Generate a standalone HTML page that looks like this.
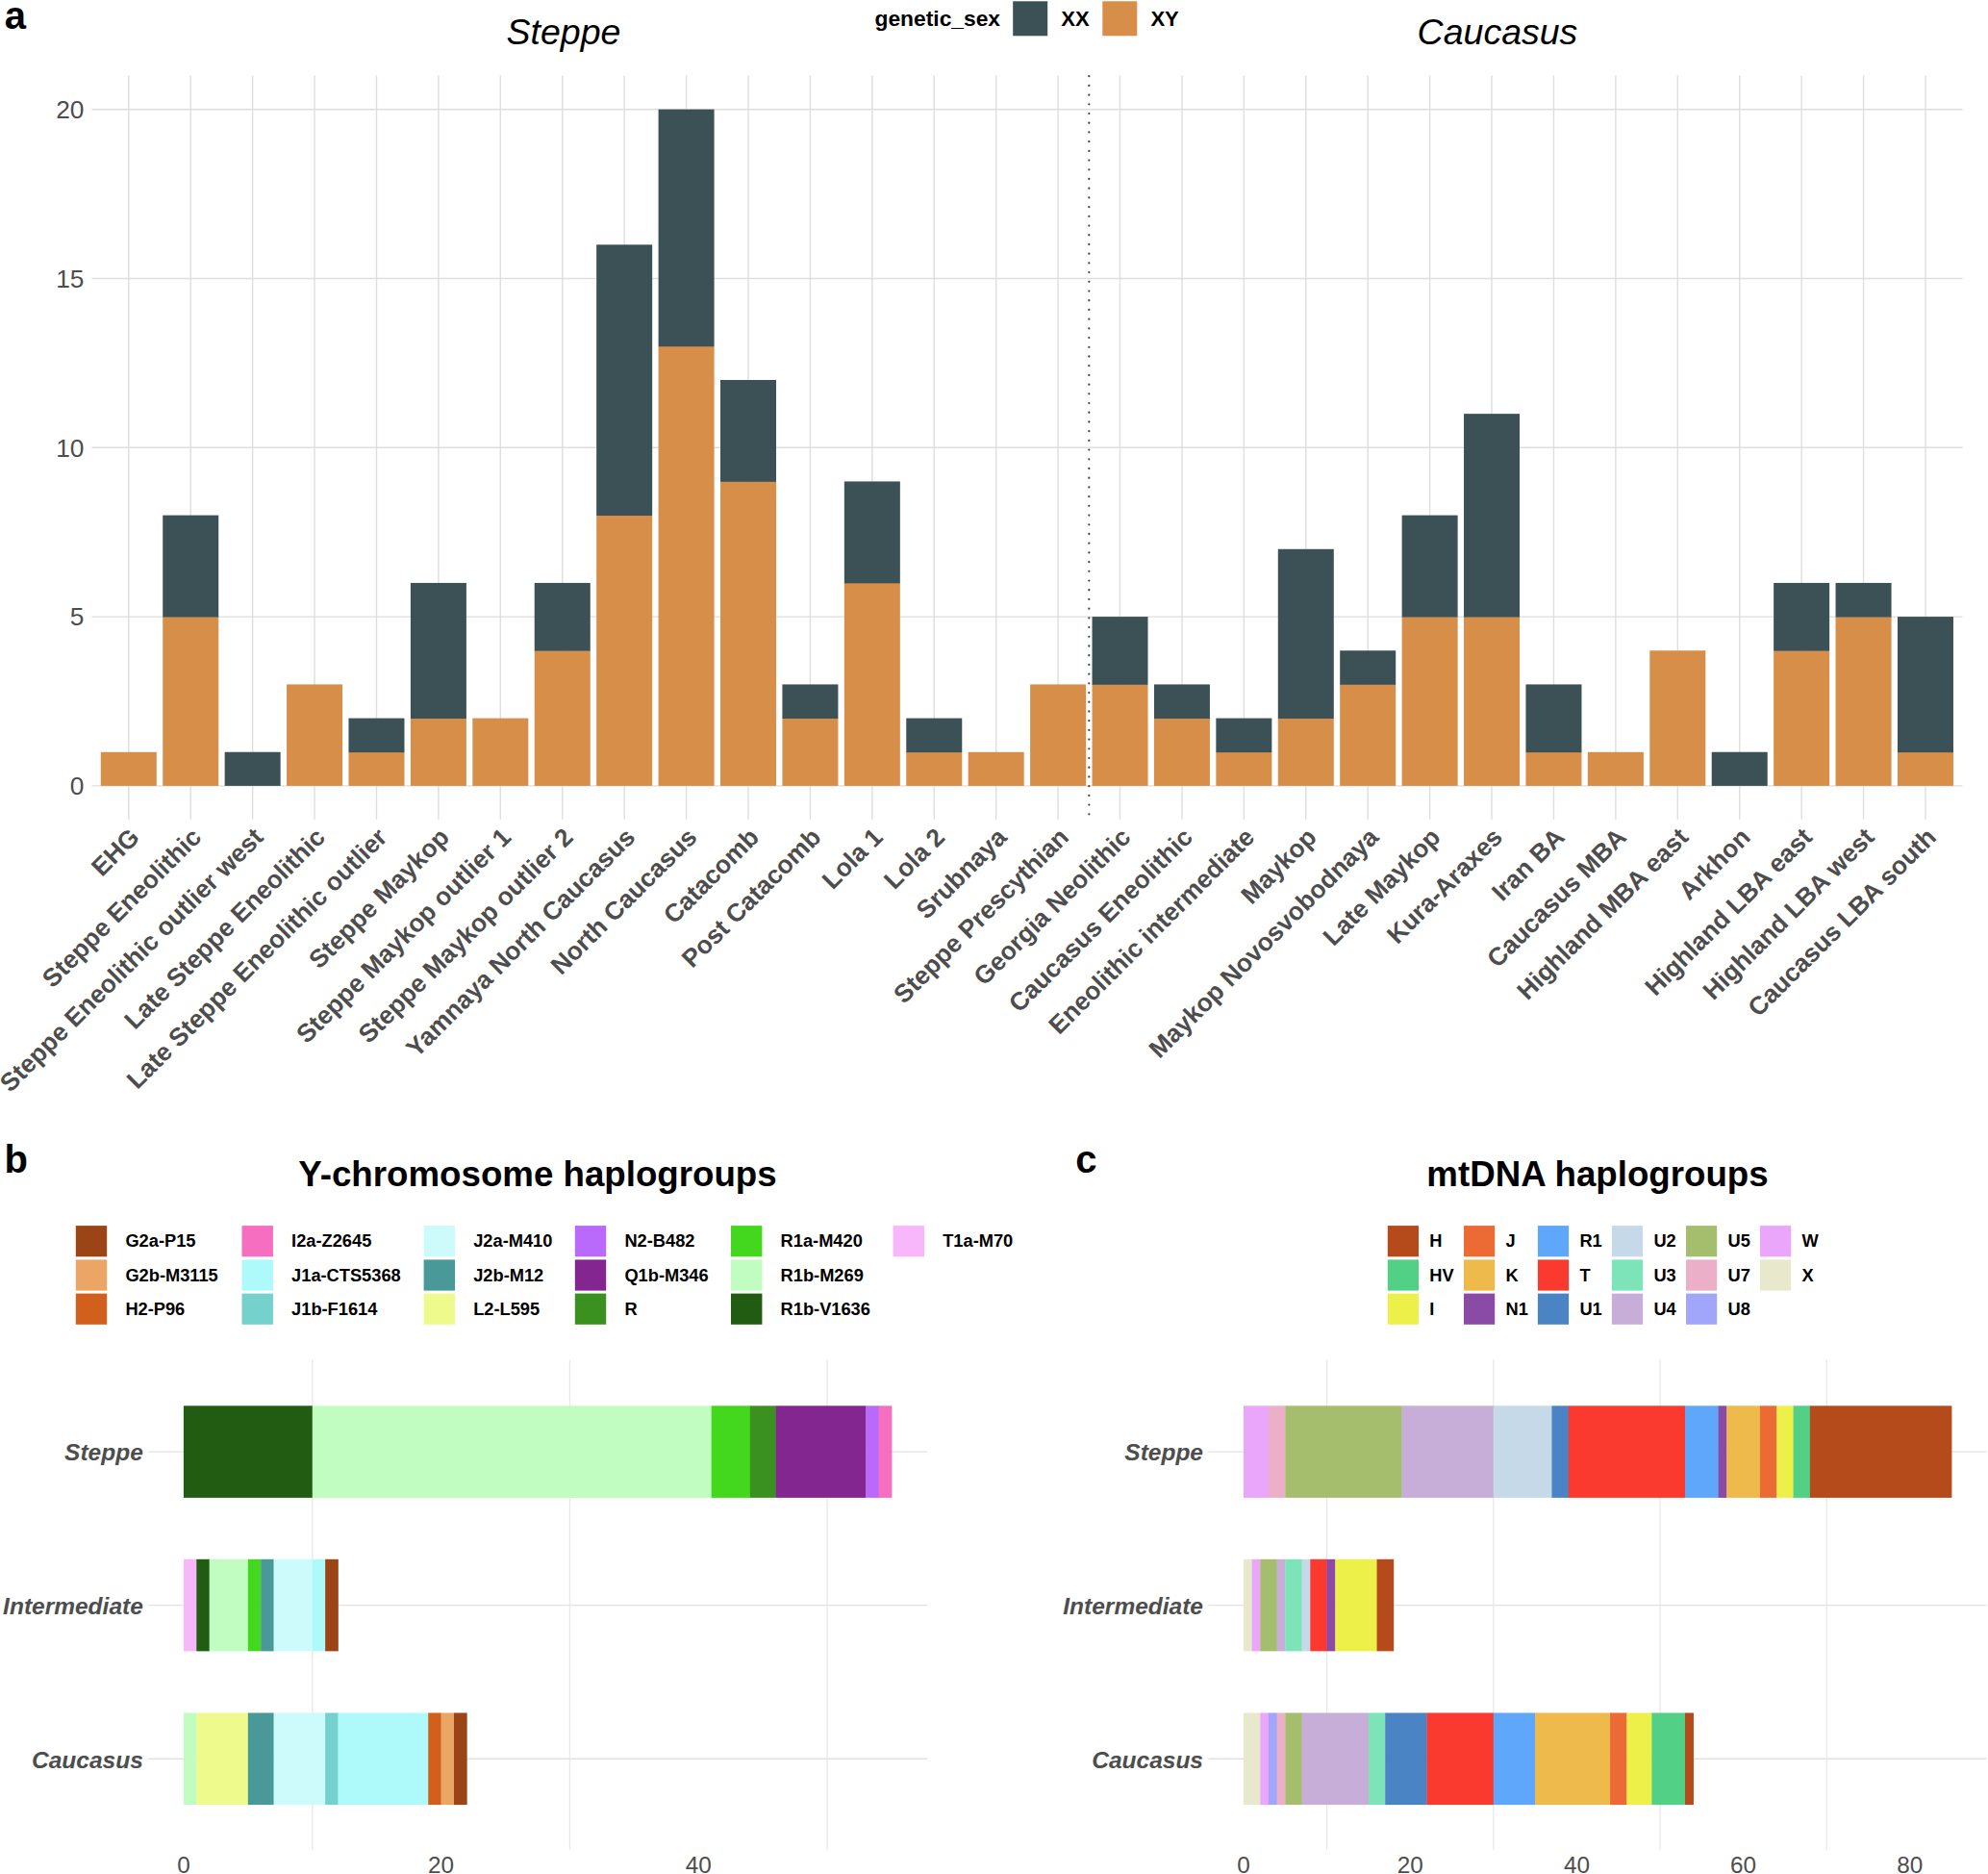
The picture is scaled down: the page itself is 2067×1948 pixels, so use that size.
<!DOCTYPE html>
<html lang="en">
<head>
<meta charset="utf-8">
<title>Genetic sex and haplogroups</title>
<style>
html,body{margin:0;padding:0;background:#fff;}
body{width:2067px;height:1948px;overflow:hidden;}
svg{display:block;font-family:"Liberation Sans",Arial,Helvetica,sans-serif;}
svg rect{shape-rendering:geometricPrecision;}
</style>
</head>
<body>
<svg width="2067" height="1948" viewBox="0 0 2067 1948">
<rect x="0" y="0" width="2067" height="1948" fill="#ffffff"/>
<g id="panel-a">
<line x1="95.4" y1="816.9" x2="2040.6" y2="816.9" stroke="#DEDEDE" stroke-width="1.4" />
<line x1="95.4" y1="641.1" x2="2040.6" y2="641.1" stroke="#DEDEDE" stroke-width="1.4" />
<line x1="95.4" y1="465.3" x2="2040.6" y2="465.3" stroke="#DEDEDE" stroke-width="1.4" />
<line x1="95.4" y1="289.5" x2="2040.6" y2="289.5" stroke="#DEDEDE" stroke-width="1.4" />
<line x1="95.4" y1="113.7" x2="2040.6" y2="113.7" stroke="#DEDEDE" stroke-width="1.4" />
<line x1="133.8" y1="78.5" x2="133.8" y2="851.7" stroke="#DEDEDE" stroke-width="1.4" />
<line x1="198.22" y1="78.5" x2="198.22" y2="851.7" stroke="#DEDEDE" stroke-width="1.4" />
<line x1="262.64" y1="78.5" x2="262.64" y2="851.7" stroke="#DEDEDE" stroke-width="1.4" />
<line x1="327.06" y1="78.5" x2="327.06" y2="851.7" stroke="#DEDEDE" stroke-width="1.4" />
<line x1="391.48" y1="78.5" x2="391.48" y2="851.7" stroke="#DEDEDE" stroke-width="1.4" />
<line x1="455.9" y1="78.5" x2="455.9" y2="851.7" stroke="#DEDEDE" stroke-width="1.4" />
<line x1="520.32" y1="78.5" x2="520.32" y2="851.7" stroke="#DEDEDE" stroke-width="1.4" />
<line x1="584.74" y1="78.5" x2="584.74" y2="851.7" stroke="#DEDEDE" stroke-width="1.4" />
<line x1="649.16" y1="78.5" x2="649.16" y2="851.7" stroke="#DEDEDE" stroke-width="1.4" />
<line x1="713.58" y1="78.5" x2="713.58" y2="851.7" stroke="#DEDEDE" stroke-width="1.4" />
<line x1="778" y1="78.5" x2="778" y2="851.7" stroke="#DEDEDE" stroke-width="1.4" />
<line x1="842.42" y1="78.5" x2="842.42" y2="851.7" stroke="#DEDEDE" stroke-width="1.4" />
<line x1="906.84" y1="78.5" x2="906.84" y2="851.7" stroke="#DEDEDE" stroke-width="1.4" />
<line x1="971.26" y1="78.5" x2="971.26" y2="851.7" stroke="#DEDEDE" stroke-width="1.4" />
<line x1="1035.68" y1="78.5" x2="1035.68" y2="851.7" stroke="#DEDEDE" stroke-width="1.4" />
<line x1="1100.1" y1="78.5" x2="1100.1" y2="851.7" stroke="#DEDEDE" stroke-width="1.4" />
<line x1="1164.52" y1="78.5" x2="1164.52" y2="851.7" stroke="#DEDEDE" stroke-width="1.4" />
<line x1="1228.94" y1="78.5" x2="1228.94" y2="851.7" stroke="#DEDEDE" stroke-width="1.4" />
<line x1="1293.36" y1="78.5" x2="1293.36" y2="851.7" stroke="#DEDEDE" stroke-width="1.4" />
<line x1="1357.78" y1="78.5" x2="1357.78" y2="851.7" stroke="#DEDEDE" stroke-width="1.4" />
<line x1="1422.2" y1="78.5" x2="1422.2" y2="851.7" stroke="#DEDEDE" stroke-width="1.4" />
<line x1="1486.62" y1="78.5" x2="1486.62" y2="851.7" stroke="#DEDEDE" stroke-width="1.4" />
<line x1="1551.04" y1="78.5" x2="1551.04" y2="851.7" stroke="#DEDEDE" stroke-width="1.4" />
<line x1="1615.46" y1="78.5" x2="1615.46" y2="851.7" stroke="#DEDEDE" stroke-width="1.4" />
<line x1="1679.88" y1="78.5" x2="1679.88" y2="851.7" stroke="#DEDEDE" stroke-width="1.4" />
<line x1="1744.3" y1="78.5" x2="1744.3" y2="851.7" stroke="#DEDEDE" stroke-width="1.4" />
<line x1="1808.72" y1="78.5" x2="1808.72" y2="851.7" stroke="#DEDEDE" stroke-width="1.4" />
<line x1="1873.14" y1="78.5" x2="1873.14" y2="851.7" stroke="#DEDEDE" stroke-width="1.4" />
<line x1="1937.56" y1="78.5" x2="1937.56" y2="851.7" stroke="#DEDEDE" stroke-width="1.4" />
<line x1="2001.98" y1="78.5" x2="2001.98" y2="851.7" stroke="#DEDEDE" stroke-width="1.4" />
<line x1="1132.31" y1="79.2" x2="1132.31" y2="851.7" stroke="#484848" stroke-width="2.3" stroke-linecap="round" stroke-dasharray="0.01 9.7"/>
<rect x="104.8" y="781.74" width="58" height="35.16" fill="#D68E49"/>
<rect x="169.22" y="641.1" width="58" height="175.8" fill="#D68E49"/>
<rect x="169.22" y="535.62" width="58" height="105.88" fill="#3B5156"/>
<rect x="233.64" y="781.74" width="58" height="35.16" fill="#3B5156"/>
<rect x="298.06" y="711.42" width="58" height="105.48" fill="#D68E49"/>
<rect x="362.48" y="781.74" width="58" height="35.16" fill="#D68E49"/>
<rect x="362.48" y="746.58" width="58" height="35.56" fill="#3B5156"/>
<rect x="426.9" y="746.58" width="58" height="70.32" fill="#D68E49"/>
<rect x="426.9" y="605.94" width="58" height="141.04" fill="#3B5156"/>
<rect x="491.32" y="746.58" width="58" height="70.32" fill="#D68E49"/>
<rect x="555.74" y="676.26" width="58" height="140.64" fill="#D68E49"/>
<rect x="555.74" y="605.94" width="58" height="70.72" fill="#3B5156"/>
<rect x="620.16" y="535.62" width="58" height="281.28" fill="#D68E49"/>
<rect x="620.16" y="254.34" width="58" height="281.68" fill="#3B5156"/>
<rect x="684.58" y="359.82" width="58" height="457.08" fill="#D68E49"/>
<rect x="684.58" y="113.7" width="58" height="246.52" fill="#3B5156"/>
<rect x="749" y="500.46" width="58" height="316.44" fill="#D68E49"/>
<rect x="749" y="394.98" width="58" height="105.88" fill="#3B5156"/>
<rect x="813.42" y="746.58" width="58" height="70.32" fill="#D68E49"/>
<rect x="813.42" y="711.42" width="58" height="35.56" fill="#3B5156"/>
<rect x="877.84" y="605.94" width="58" height="210.96" fill="#D68E49"/>
<rect x="877.84" y="500.46" width="58" height="105.88" fill="#3B5156"/>
<rect x="942.26" y="781.74" width="58" height="35.16" fill="#D68E49"/>
<rect x="942.26" y="746.58" width="58" height="35.56" fill="#3B5156"/>
<rect x="1006.68" y="781.74" width="58" height="35.16" fill="#D68E49"/>
<rect x="1071.1" y="711.42" width="58" height="105.48" fill="#D68E49"/>
<rect x="1135.52" y="711.42" width="58" height="105.48" fill="#D68E49"/>
<rect x="1135.52" y="641.1" width="58" height="70.72" fill="#3B5156"/>
<rect x="1199.94" y="746.58" width="58" height="70.32" fill="#D68E49"/>
<rect x="1199.94" y="711.42" width="58" height="35.56" fill="#3B5156"/>
<rect x="1264.36" y="781.74" width="58" height="35.16" fill="#D68E49"/>
<rect x="1264.36" y="746.58" width="58" height="35.56" fill="#3B5156"/>
<rect x="1328.78" y="746.58" width="58" height="70.32" fill="#D68E49"/>
<rect x="1328.78" y="570.78" width="58" height="176.2" fill="#3B5156"/>
<rect x="1393.2" y="711.42" width="58" height="105.48" fill="#D68E49"/>
<rect x="1393.2" y="676.26" width="58" height="35.56" fill="#3B5156"/>
<rect x="1457.62" y="641.1" width="58" height="175.8" fill="#D68E49"/>
<rect x="1457.62" y="535.62" width="58" height="105.88" fill="#3B5156"/>
<rect x="1522.04" y="641.1" width="58" height="175.8" fill="#D68E49"/>
<rect x="1522.04" y="430.14" width="58" height="211.36" fill="#3B5156"/>
<rect x="1586.46" y="781.74" width="58" height="35.16" fill="#D68E49"/>
<rect x="1586.46" y="711.42" width="58" height="70.72" fill="#3B5156"/>
<rect x="1650.88" y="781.74" width="58" height="35.16" fill="#D68E49"/>
<rect x="1715.3" y="676.26" width="58" height="140.64" fill="#D68E49"/>
<rect x="1779.72" y="781.74" width="58" height="35.16" fill="#3B5156"/>
<rect x="1844.14" y="676.26" width="58" height="140.64" fill="#D68E49"/>
<rect x="1844.14" y="605.94" width="58" height="70.72" fill="#3B5156"/>
<rect x="1908.56" y="641.1" width="58" height="175.8" fill="#D68E49"/>
<rect x="1908.56" y="605.94" width="58" height="35.56" fill="#3B5156"/>
<rect x="1972.98" y="781.74" width="58" height="35.16" fill="#D68E49"/>
<rect x="1972.98" y="641.1" width="58" height="141.04" fill="#3B5156"/>
<text x="87.4" y="826.2" font-size="26.3" fill="#4D4D4D" font-weight="normal" font-style="normal" text-anchor="end" >0</text>
<text x="87.4" y="650.4" font-size="26.3" fill="#4D4D4D" font-weight="normal" font-style="normal" text-anchor="end" >5</text>
<text x="87.4" y="474.6" font-size="26.3" fill="#4D4D4D" font-weight="normal" font-style="normal" text-anchor="end" >10</text>
<text x="87.4" y="298.8" font-size="26.3" fill="#4D4D4D" font-weight="normal" font-style="normal" text-anchor="end" >15</text>
<text x="87.4" y="123" font-size="26.3" fill="#4D4D4D" font-weight="normal" font-style="normal" text-anchor="end" >20</text>
<text transform="translate(134.45,859.95) rotate(-45)" x="0" y="16.9" font-size="26.3" font-weight="bold" fill="#4D4D4D" text-anchor="end">EHG</text>
<text transform="translate(198.87,859.95) rotate(-45)" x="0" y="16.9" font-size="26.3" font-weight="bold" fill="#4D4D4D" text-anchor="end">Steppe Eneolithic</text>
<text transform="translate(263.29,859.95) rotate(-45)" x="0" y="16.9" font-size="26.3" font-weight="bold" fill="#4D4D4D" text-anchor="end">Steppe Eneolithic outlier west</text>
<text transform="translate(327.71,859.95) rotate(-45)" x="0" y="16.9" font-size="26.3" font-weight="bold" fill="#4D4D4D" text-anchor="end">Late Steppe Eneolithic</text>
<text transform="translate(392.13,859.95) rotate(-45)" x="0" y="16.9" font-size="26.3" font-weight="bold" fill="#4D4D4D" text-anchor="end">Late Steppe Eneolithic outlier</text>
<text transform="translate(456.55,859.95) rotate(-45)" x="0" y="16.9" font-size="26.3" font-weight="bold" fill="#4D4D4D" text-anchor="end">Steppe Maykop</text>
<text transform="translate(520.97,859.95) rotate(-45)" x="0" y="16.9" font-size="26.3" font-weight="bold" fill="#4D4D4D" text-anchor="end">Steppe Maykop outlier 1</text>
<text transform="translate(585.39,859.95) rotate(-45)" x="0" y="16.9" font-size="26.3" font-weight="bold" fill="#4D4D4D" text-anchor="end">Steppe Maykop outlier 2</text>
<text transform="translate(649.81,859.95) rotate(-45)" x="0" y="16.9" font-size="26.3" font-weight="bold" fill="#4D4D4D" text-anchor="end">Yamnaya North Caucasus</text>
<text transform="translate(714.23,859.95) rotate(-45)" x="0" y="16.9" font-size="26.3" font-weight="bold" fill="#4D4D4D" text-anchor="end">North Caucasus</text>
<text transform="translate(778.65,859.95) rotate(-45)" x="0" y="16.9" font-size="26.3" font-weight="bold" fill="#4D4D4D" text-anchor="end">Catacomb</text>
<text transform="translate(843.07,859.95) rotate(-45)" x="0" y="16.9" font-size="26.3" font-weight="bold" fill="#4D4D4D" text-anchor="end">Post Catacomb</text>
<text transform="translate(907.49,859.95) rotate(-45)" x="0" y="16.9" font-size="26.3" font-weight="bold" fill="#4D4D4D" text-anchor="end">Lola 1</text>
<text transform="translate(971.91,859.95) rotate(-45)" x="0" y="16.9" font-size="26.3" font-weight="bold" fill="#4D4D4D" text-anchor="end">Lola 2</text>
<text transform="translate(1036.33,859.95) rotate(-45)" x="0" y="16.9" font-size="26.3" font-weight="bold" fill="#4D4D4D" text-anchor="end">Srubnaya</text>
<text transform="translate(1100.75,859.95) rotate(-45)" x="0" y="16.9" font-size="26.3" font-weight="bold" fill="#4D4D4D" text-anchor="end">Steppe Prescythian</text>
<text transform="translate(1165.17,859.95) rotate(-45)" x="0" y="16.9" font-size="26.3" font-weight="bold" fill="#4D4D4D" text-anchor="end">Georgia Neolithic</text>
<text transform="translate(1229.59,859.95) rotate(-45)" x="0" y="16.9" font-size="26.3" font-weight="bold" fill="#4D4D4D" text-anchor="end">Caucasus Eneolithic</text>
<text transform="translate(1294.01,859.95) rotate(-45)" x="0" y="16.9" font-size="26.3" font-weight="bold" fill="#4D4D4D" text-anchor="end">Eneolithic intermediate</text>
<text transform="translate(1358.43,859.95) rotate(-45)" x="0" y="16.9" font-size="26.3" font-weight="bold" fill="#4D4D4D" text-anchor="end">Maykop</text>
<text transform="translate(1422.85,859.95) rotate(-45)" x="0" y="16.9" font-size="26.3" font-weight="bold" fill="#4D4D4D" text-anchor="end">Maykop Novosvobodnaya</text>
<text transform="translate(1487.27,859.95) rotate(-45)" x="0" y="16.9" font-size="26.3" font-weight="bold" fill="#4D4D4D" text-anchor="end">Late Maykop</text>
<text transform="translate(1551.69,859.95) rotate(-45)" x="0" y="16.9" font-size="26.3" font-weight="bold" fill="#4D4D4D" text-anchor="end">Kura-Araxes</text>
<text transform="translate(1616.11,859.95) rotate(-45)" x="0" y="16.9" font-size="26.3" font-weight="bold" fill="#4D4D4D" text-anchor="end">Iran BA</text>
<text transform="translate(1680.53,859.95) rotate(-45)" x="0" y="16.9" font-size="26.3" font-weight="bold" fill="#4D4D4D" text-anchor="end">Caucasus MBA</text>
<text transform="translate(1744.95,859.95) rotate(-45)" x="0" y="16.9" font-size="26.3" font-weight="bold" fill="#4D4D4D" text-anchor="end">Highland MBA east</text>
<text transform="translate(1809.37,859.95) rotate(-45)" x="0" y="16.9" font-size="26.3" font-weight="bold" fill="#4D4D4D" text-anchor="end">Arkhon</text>
<text transform="translate(1873.79,859.95) rotate(-45)" x="0" y="16.9" font-size="26.3" font-weight="bold" fill="#4D4D4D" text-anchor="end">Highland LBA east</text>
<text transform="translate(1938.21,859.95) rotate(-45)" x="0" y="16.9" font-size="26.3" font-weight="bold" fill="#4D4D4D" text-anchor="end">Highland LBA west</text>
<text transform="translate(2002.63,859.95) rotate(-45)" x="0" y="16.9" font-size="26.3" font-weight="bold" fill="#4D4D4D" text-anchor="end">Caucasus LBA south</text>
<text x="586" y="46" font-size="37.5" fill="#000" font-weight="normal" font-style="italic" text-anchor="middle" >Steppe</text>
<text x="1557" y="46" font-size="37.5" fill="#000" font-weight="normal" font-style="italic" text-anchor="middle" >Caucasus</text>
<text x="909.5" y="27.4" font-size="22.8" fill="#000" font-weight="bold" font-style="normal" text-anchor="start" >genetic_sex</text>
<rect x="1053.2" y="1.3" width="36" height="36" fill="#3B5156"/>
<text x="1103.3" y="27.3" font-size="22" fill="#000" font-weight="bold" font-style="normal" text-anchor="start" >XX</text>
<rect x="1146.3" y="1.3" width="36" height="36" fill="#D68E49"/>
<text x="1196.4" y="27.3" font-size="22" fill="#000" font-weight="bold" font-style="normal" text-anchor="start" >XY</text>
<text x="4.8" y="29.6" font-size="40" fill="#000" font-weight="bold" font-style="normal" text-anchor="start" >a</text>
</g>
<g id="panel-b">
<line x1="154.2" y1="1509.1" x2="964.3" y2="1509.1" stroke="#E2E2E2" stroke-width="1.4" />
<line x1="154.2" y1="1668.6" x2="964.3" y2="1668.6" stroke="#E2E2E2" stroke-width="1.4" />
<line x1="154.2" y1="1828.3" x2="964.3" y2="1828.3" stroke="#E2E2E2" stroke-width="1.4" />
<line x1="324.75" y1="1413.3" x2="324.75" y2="1923.2" stroke="#E8E8E8" stroke-width="1.3" />
<line x1="592.45" y1="1413.3" x2="592.45" y2="1923.2" stroke="#E8E8E8" stroke-width="1.3" />
<line x1="860.15" y1="1413.3" x2="860.15" y2="1923.2" stroke="#E8E8E8" stroke-width="1.3" />
<rect x="190.9" y="1461.3" width="134.15" height="95.6" fill="#215C12"/>
<rect x="324.75" y="1461.3" width="415.23" height="95.6" fill="#C1FCC1"/>
<rect x="739.68" y="1461.3" width="40.45" height="95.6" fill="#43D81E"/>
<rect x="779.84" y="1461.3" width="27.07" height="95.6" fill="#3A911F"/>
<rect x="806.61" y="1461.3" width="93.99" height="95.6" fill="#842690"/>
<rect x="900.3" y="1461.3" width="13.68" height="95.6" fill="#B96AFA"/>
<rect x="913.69" y="1461.3" width="13.68" height="95.6" fill="#F66EC0"/>
<rect x="190.9" y="1620.8" width="13.68" height="95.6" fill="#F7B7FA"/>
<rect x="204.28" y="1620.8" width="13.69" height="95.6" fill="#215C12"/>
<rect x="217.67" y="1620.8" width="40.45" height="95.6" fill="#C1FCC1"/>
<rect x="257.82" y="1620.8" width="13.69" height="95.6" fill="#43D81E"/>
<rect x="271.21" y="1620.8" width="13.68" height="95.6" fill="#4A9999"/>
<rect x="284.6" y="1620.8" width="40.45" height="95.6" fill="#CDFAFA"/>
<rect x="324.75" y="1620.8" width="13.68" height="95.6" fill="#AEFAFA"/>
<rect x="338.13" y="1620.8" width="13.68" height="95.6" fill="#9B4517"/>
<rect x="190.9" y="1780.5" width="13.68" height="95.6" fill="#C1FCC1"/>
<rect x="204.28" y="1780.5" width="53.84" height="95.6" fill="#EFFA8C"/>
<rect x="257.82" y="1780.5" width="27.07" height="95.6" fill="#4A9999"/>
<rect x="284.6" y="1780.5" width="53.84" height="95.6" fill="#CDFAFA"/>
<rect x="338.13" y="1780.5" width="13.68" height="95.6" fill="#74D1CC"/>
<rect x="351.52" y="1780.5" width="94" height="95.6" fill="#AEFAFA"/>
<rect x="445.22" y="1780.5" width="13.68" height="95.6" fill="#D0601C"/>
<rect x="458.6" y="1780.5" width="13.68" height="95.6" fill="#EBA565"/>
<rect x="471.99" y="1780.5" width="13.68" height="95.6" fill="#9B4517"/>
<text x="190.9" y="1946.5" font-size="24.3" fill="#4D4D4D" font-weight="normal" font-style="normal" text-anchor="middle" >0</text>
<text x="458.6" y="1946.5" font-size="24.3" fill="#4D4D4D" font-weight="normal" font-style="normal" text-anchor="middle" >20</text>
<text x="726.3" y="1946.5" font-size="24.3" fill="#4D4D4D" font-weight="normal" font-style="normal" text-anchor="middle" >40</text>
<text x="148.8" y="1518.3" font-size="24.5" fill="#4D4D4D" font-weight="bold" font-style="italic" text-anchor="end" >Steppe</text>
<text x="148.8" y="1677.8" font-size="24.5" fill="#4D4D4D" font-weight="bold" font-style="italic" text-anchor="end" >Intermediate</text>
<text x="148.8" y="1837.5" font-size="24.5" fill="#4D4D4D" font-weight="bold" font-style="italic" text-anchor="end" >Caucasus</text>
<rect x="78.8" y="1274.1" width="32.4" height="32.2" fill="#9B4517"/>
<text x="130.4" y="1296.3" font-size="18.25" fill="#000" font-weight="bold" font-style="normal" text-anchor="start" >G2a-P15</text>
<rect x="78.8" y="1309.4" width="32.4" height="32.2" fill="#EBA565"/>
<text x="130.4" y="1331.6" font-size="18.25" fill="#000" font-weight="bold" font-style="normal" text-anchor="start" >G2b-M3115</text>
<rect x="78.8" y="1344.6" width="32.4" height="32.2" fill="#D0601C"/>
<text x="130.4" y="1366.8" font-size="18.25" fill="#000" font-weight="bold" font-style="normal" text-anchor="start" >H2-P96</text>
<rect x="251.5" y="1274.1" width="32.4" height="32.2" fill="#F66EC0"/>
<text x="303.1" y="1296.3" font-size="18.25" fill="#000" font-weight="bold" font-style="normal" text-anchor="start" >I2a-Z2645</text>
<rect x="251.5" y="1309.4" width="32.4" height="32.2" fill="#AEFAFA"/>
<text x="303.1" y="1331.6" font-size="18.25" fill="#000" font-weight="bold" font-style="normal" text-anchor="start" >J1a-CTS5368</text>
<rect x="251.5" y="1344.6" width="32.4" height="32.2" fill="#74D1CC"/>
<text x="303.1" y="1366.8" font-size="18.25" fill="#000" font-weight="bold" font-style="normal" text-anchor="start" >J1b-F1614</text>
<rect x="440.6" y="1274.1" width="32.4" height="32.2" fill="#CDFAFA"/>
<text x="492.2" y="1296.3" font-size="18.25" fill="#000" font-weight="bold" font-style="normal" text-anchor="start" >J2a-M410</text>
<rect x="440.6" y="1309.4" width="32.4" height="32.2" fill="#4A9999"/>
<text x="492.2" y="1331.6" font-size="18.25" fill="#000" font-weight="bold" font-style="normal" text-anchor="start" >J2b-M12</text>
<rect x="440.6" y="1344.6" width="32.4" height="32.2" fill="#EFFA8C"/>
<text x="492.2" y="1366.8" font-size="18.25" fill="#000" font-weight="bold" font-style="normal" text-anchor="start" >L2-L595</text>
<rect x="597.8" y="1274.1" width="32.4" height="32.2" fill="#B96AFA"/>
<text x="649.4" y="1296.3" font-size="18.25" fill="#000" font-weight="bold" font-style="normal" text-anchor="start" >N2-B482</text>
<rect x="597.8" y="1309.4" width="32.4" height="32.2" fill="#842690"/>
<text x="649.4" y="1331.6" font-size="18.25" fill="#000" font-weight="bold" font-style="normal" text-anchor="start" >Q1b-M346</text>
<rect x="597.8" y="1344.6" width="32.4" height="32.2" fill="#3A911F"/>
<text x="649.4" y="1366.8" font-size="18.25" fill="#000" font-weight="bold" font-style="normal" text-anchor="start" >R</text>
<rect x="760" y="1274.1" width="32.4" height="32.2" fill="#43D81E"/>
<text x="811.6" y="1296.3" font-size="18.25" fill="#000" font-weight="bold" font-style="normal" text-anchor="start" >R1a-M420</text>
<rect x="760" y="1309.4" width="32.4" height="32.2" fill="#C1FCC1"/>
<text x="811.6" y="1331.6" font-size="18.25" fill="#000" font-weight="bold" font-style="normal" text-anchor="start" >R1b-M269</text>
<rect x="760" y="1344.6" width="32.4" height="32.2" fill="#215C12"/>
<text x="811.6" y="1366.8" font-size="18.25" fill="#000" font-weight="bold" font-style="normal" text-anchor="start" >R1b-V1636</text>
<rect x="928.6" y="1274.1" width="32.4" height="32.2" fill="#F7B7FA"/>
<text x="980.2" y="1296.3" font-size="18.25" fill="#000" font-weight="bold" font-style="normal" text-anchor="start" >T1a-M70</text>
<text x="559" y="1233" font-size="36.7" fill="#000" font-weight="bold" font-style="normal" text-anchor="middle" >Y-chromosome haplogroups</text>
<text x="4.4" y="1218.6" font-size="40" fill="#000" font-weight="bold" font-style="normal" text-anchor="start" >b</text>
</g>
<g id="panel-c">
<line x1="1256.3" y1="1509.1" x2="2065.6" y2="1509.1" stroke="#E2E2E2" stroke-width="1.4" />
<line x1="1256.3" y1="1668.6" x2="2065.6" y2="1668.6" stroke="#E2E2E2" stroke-width="1.4" />
<line x1="1256.3" y1="1828.3" x2="2065.6" y2="1828.3" stroke="#E2E2E2" stroke-width="1.4" />
<line x1="1379.6" y1="1413.3" x2="1379.6" y2="1923.2" stroke="#E8E8E8" stroke-width="1.3" />
<line x1="1552.8" y1="1413.3" x2="1552.8" y2="1923.2" stroke="#E8E8E8" stroke-width="1.3" />
<line x1="1726" y1="1413.3" x2="1726" y2="1923.2" stroke="#E8E8E8" stroke-width="1.3" />
<line x1="1899.2" y1="1413.3" x2="1899.2" y2="1923.2" stroke="#E8E8E8" stroke-width="1.3" />
<rect x="1293" y="1461.3" width="26.28" height="95.6" fill="#EAA6FA"/>
<rect x="1318.98" y="1461.3" width="17.62" height="95.6" fill="#EBAFC7"/>
<rect x="1336.3" y="1461.3" width="121.54" height="95.6" fill="#A5BE6E"/>
<rect x="1457.54" y="1461.3" width="95.56" height="95.6" fill="#C6AED9"/>
<rect x="1552.8" y="1461.3" width="60.92" height="95.6" fill="#C6D9E8"/>
<rect x="1613.42" y="1461.3" width="17.62" height="95.6" fill="#4A84C5"/>
<rect x="1630.74" y="1461.3" width="121.54" height="95.6" fill="#FA3A2E"/>
<rect x="1751.98" y="1461.3" width="34.94" height="95.6" fill="#5EA7FA"/>
<rect x="1786.62" y="1461.3" width="8.96" height="95.6" fill="#894BA6"/>
<rect x="1795.28" y="1461.3" width="34.94" height="95.6" fill="#EDBA4B"/>
<rect x="1829.92" y="1461.3" width="17.62" height="95.6" fill="#EC6B35"/>
<rect x="1847.24" y="1461.3" width="17.62" height="95.6" fill="#EDF048"/>
<rect x="1864.56" y="1461.3" width="17.62" height="95.6" fill="#52D086"/>
<rect x="1881.88" y="1461.3" width="147.52" height="95.6" fill="#B54A1B"/>
<rect x="1293" y="1620.8" width="8.96" height="95.6" fill="#E8E8CC"/>
<rect x="1301.66" y="1620.8" width="8.96" height="95.6" fill="#EAA6FA"/>
<rect x="1310.32" y="1620.8" width="17.62" height="95.6" fill="#A5BE6E"/>
<rect x="1327.64" y="1620.8" width="8.96" height="95.6" fill="#C6AED9"/>
<rect x="1336.3" y="1620.8" width="17.62" height="95.6" fill="#7DE4B9"/>
<rect x="1353.62" y="1620.8" width="8.96" height="95.6" fill="#C6D9E8"/>
<rect x="1362.28" y="1620.8" width="17.62" height="95.6" fill="#FA3A2E"/>
<rect x="1379.6" y="1620.8" width="8.96" height="95.6" fill="#894BA6"/>
<rect x="1388.26" y="1620.8" width="43.6" height="95.6" fill="#EDF048"/>
<rect x="1431.56" y="1620.8" width="17.62" height="95.6" fill="#B54A1B"/>
<rect x="1293" y="1780.5" width="17.62" height="95.6" fill="#E8E8CC"/>
<rect x="1310.32" y="1780.5" width="8.96" height="95.6" fill="#EAA6FA"/>
<rect x="1318.98" y="1780.5" width="8.96" height="95.6" fill="#A2A6FA"/>
<rect x="1327.64" y="1780.5" width="8.96" height="95.6" fill="#EBAFC7"/>
<rect x="1336.3" y="1780.5" width="17.62" height="95.6" fill="#A5BE6E"/>
<rect x="1353.62" y="1780.5" width="69.58" height="95.6" fill="#C6AED9"/>
<rect x="1422.9" y="1780.5" width="17.62" height="95.6" fill="#7DE4B9"/>
<rect x="1440.22" y="1780.5" width="43.6" height="95.6" fill="#4A84C5"/>
<rect x="1483.52" y="1780.5" width="69.58" height="95.6" fill="#FA3A2E"/>
<rect x="1552.8" y="1780.5" width="43.6" height="95.6" fill="#5EA7FA"/>
<rect x="1596.1" y="1780.5" width="78.24" height="95.6" fill="#EDBA4B"/>
<rect x="1674.04" y="1780.5" width="17.62" height="95.6" fill="#EC6B35"/>
<rect x="1691.36" y="1780.5" width="26.28" height="95.6" fill="#EDF048"/>
<rect x="1717.34" y="1780.5" width="34.94" height="95.6" fill="#52D086"/>
<rect x="1751.98" y="1780.5" width="8.96" height="95.6" fill="#B54A1B"/>
<text x="1293" y="1946.5" font-size="24.3" fill="#4D4D4D" font-weight="normal" font-style="normal" text-anchor="middle" >0</text>
<text x="1466.2" y="1946.5" font-size="24.3" fill="#4D4D4D" font-weight="normal" font-style="normal" text-anchor="middle" >20</text>
<text x="1639.4" y="1946.5" font-size="24.3" fill="#4D4D4D" font-weight="normal" font-style="normal" text-anchor="middle" >40</text>
<text x="1812.6" y="1946.5" font-size="24.3" fill="#4D4D4D" font-weight="normal" font-style="normal" text-anchor="middle" >60</text>
<text x="1985.8" y="1946.5" font-size="24.3" fill="#4D4D4D" font-weight="normal" font-style="normal" text-anchor="middle" >80</text>
<text x="1251" y="1518.3" font-size="24.5" fill="#4D4D4D" font-weight="bold" font-style="italic" text-anchor="end" >Steppe</text>
<text x="1251" y="1677.8" font-size="24.5" fill="#4D4D4D" font-weight="bold" font-style="italic" text-anchor="end" >Intermediate</text>
<text x="1251" y="1837.5" font-size="24.5" fill="#4D4D4D" font-weight="bold" font-style="italic" text-anchor="end" >Caucasus</text>
<rect x="1442.8" y="1274.1" width="32.2" height="32.2" fill="#B54A1B"/>
<text x="1486.3" y="1296.3" font-size="18.25" fill="#000" font-weight="bold" font-style="normal" text-anchor="start" >H</text>
<rect x="1442.8" y="1309.4" width="32.2" height="32.2" fill="#52D086"/>
<text x="1486.3" y="1331.6" font-size="18.25" fill="#000" font-weight="bold" font-style="normal" text-anchor="start" >HV</text>
<rect x="1442.8" y="1344.6" width="32.2" height="32.2" fill="#EDF048"/>
<text x="1486.3" y="1366.8" font-size="18.25" fill="#000" font-weight="bold" font-style="normal" text-anchor="start" >I</text>
<rect x="1522" y="1274.1" width="32.2" height="32.2" fill="#EC6B35"/>
<text x="1565.5" y="1296.3" font-size="18.25" fill="#000" font-weight="bold" font-style="normal" text-anchor="start" >J</text>
<rect x="1522" y="1309.4" width="32.2" height="32.2" fill="#EDBA4B"/>
<text x="1565.5" y="1331.6" font-size="18.25" fill="#000" font-weight="bold" font-style="normal" text-anchor="start" >K</text>
<rect x="1522" y="1344.6" width="32.2" height="32.2" fill="#894BA6"/>
<text x="1565.5" y="1366.8" font-size="18.25" fill="#000" font-weight="bold" font-style="normal" text-anchor="start" >N1</text>
<rect x="1598.9" y="1274.1" width="32.2" height="32.2" fill="#5EA7FA"/>
<text x="1642.4" y="1296.3" font-size="18.25" fill="#000" font-weight="bold" font-style="normal" text-anchor="start" >R1</text>
<rect x="1598.9" y="1309.4" width="32.2" height="32.2" fill="#FA3A2E"/>
<text x="1642.4" y="1331.6" font-size="18.25" fill="#000" font-weight="bold" font-style="normal" text-anchor="start" >T</text>
<rect x="1598.9" y="1344.6" width="32.2" height="32.2" fill="#4A84C5"/>
<text x="1642.4" y="1366.8" font-size="18.25" fill="#000" font-weight="bold" font-style="normal" text-anchor="start" >U1</text>
<rect x="1675.9" y="1274.1" width="32.2" height="32.2" fill="#C6D9E8"/>
<text x="1719.4" y="1296.3" font-size="18.25" fill="#000" font-weight="bold" font-style="normal" text-anchor="start" >U2</text>
<rect x="1675.9" y="1309.4" width="32.2" height="32.2" fill="#7DE4B9"/>
<text x="1719.4" y="1331.6" font-size="18.25" fill="#000" font-weight="bold" font-style="normal" text-anchor="start" >U3</text>
<rect x="1675.9" y="1344.6" width="32.2" height="32.2" fill="#C6AED9"/>
<text x="1719.4" y="1366.8" font-size="18.25" fill="#000" font-weight="bold" font-style="normal" text-anchor="start" >U4</text>
<rect x="1753" y="1274.1" width="32.2" height="32.2" fill="#A5BE6E"/>
<text x="1796.5" y="1296.3" font-size="18.25" fill="#000" font-weight="bold" font-style="normal" text-anchor="start" >U5</text>
<rect x="1753" y="1309.4" width="32.2" height="32.2" fill="#EBAFC7"/>
<text x="1796.5" y="1331.6" font-size="18.25" fill="#000" font-weight="bold" font-style="normal" text-anchor="start" >U7</text>
<rect x="1753" y="1344.6" width="32.2" height="32.2" fill="#A2A6FA"/>
<text x="1796.5" y="1366.8" font-size="18.25" fill="#000" font-weight="bold" font-style="normal" text-anchor="start" >U8</text>
<rect x="1830" y="1274.1" width="32.2" height="32.2" fill="#EAA6FA"/>
<text x="1873.5" y="1296.3" font-size="18.25" fill="#000" font-weight="bold" font-style="normal" text-anchor="start" >W</text>
<rect x="1830" y="1309.4" width="32.2" height="32.2" fill="#E8E8CC"/>
<text x="1873.5" y="1331.6" font-size="18.25" fill="#000" font-weight="bold" font-style="normal" text-anchor="start" >X</text>
<text x="1661" y="1233" font-size="36.7" fill="#000" font-weight="bold" font-style="normal" text-anchor="middle" >mtDNA haplogroups</text>
<text x="1118.2" y="1218.6" font-size="40" fill="#000" font-weight="bold" font-style="normal" text-anchor="start" >c</text>
</g>
</svg>
</body>
</html>
